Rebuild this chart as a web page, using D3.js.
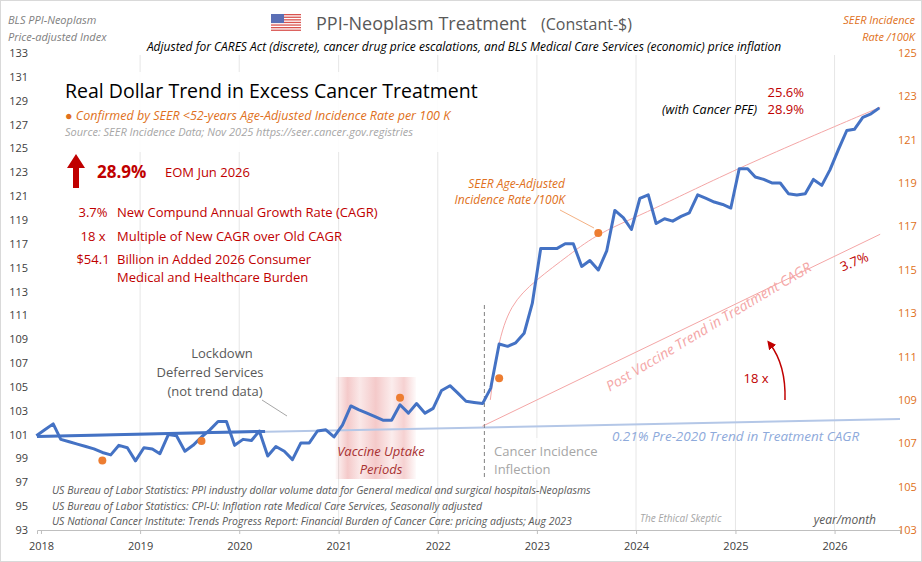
<!DOCTYPE html>
<html lang="en">
<head>
<meta charset="UTF-8">
<title>PPI-Neoplasm Treatment</title>
<script src="https://d3js.org/d3.v7.min.js"></script>
<style>
  body { margin: 0; background: #fff; font-family: Calibri, "Liberation Sans", "Open Sans", sans-serif; }
  svg text { font-family: "Open Sans", "Liberation Sans", sans-serif; }
</style>
</head>
<body>
<svg id="chart"></svg>
<script>
// ---- data ----
const startMonth = "2017-12"; // first monthly observation
const ppiIndex = [
  100.9, 101.4, 101.9, 100.6, 100.4, 100.2, 100.0, 99.8, 99.5, 99.3, 100.1, 99.9,
  98.8, 99.9, 99.8, 99.4, 101.0, 100.9, 99.6, 100.1, 100.8, 101.4, 102.1, 102.1,
  100.1, 100.6, 100.5, 101.3, 99.2, 100.0, 99.6, 98.9, 100.3, 100.3, 101.3, 101.4,
  100.8, 101.8, 103.4, 103.1, 102.8, 102.5, 102.2, 102.2, 103.5, 102.8, 103.6, 102.8,
  103.2, 104.7, 105.1, 104.5, 103.8, 103.7, 103.6, 104.9, 108.6, 108.4, 108.7, 109.5,
  112.0, 116.6, 116.6, 116.6, 117.0, 117.0, 115.1, 115.6, 114.8, 116.4, 119.8, 119.2,
  118.2, 120.8, 121.1, 118.7, 119.1, 118.9, 119.3, 119.6, 121.1, 120.8, 120.5, 120.3,
  120.0, 123.3, 123.3, 122.6, 122.4, 122.1, 122.1, 121.2, 121.1, 121.2, 122.4, 121.9,
  123.2, 124.9, 126.5, 126.6, 127.6, 127.9, 128.4
];
// SEER age-adjusted incidence (right axis)
const seerDates = ["2018-08", "2019-08", "2021-08", "2022-08", "2023-08"];
const seerRates = [106.2, 107.1, 109.1, 110.0, 116.7];
// SEER log-like fit curve (right axis)
const fitDates = [2022.53, 2022.60, 2022.73, 2022.98, 2023.33, 2023.62, 2024.14, 2025.02, 2026.46];
const fitRates = [109.0, 111.5, 113.4, 114.5, 115.7, 116.7, 117.7, 119.7, 122.5];
// trend lines (left axis)
const preTrendYears = [2017.96, 2020.26];
const preTrendVals = [100.85, 101.27];
const baseTrendYears = [2017.96, 2026.66];
const baseTrendVals = [100.85, 102.3];
const postTrendYears = [2022.45, 2026.46];
const postTrendVals = [101.7, 117.8];
const inflectionYear = 2022.47;
const leftTicks = d3.range(93, 134, 2);
const rightTicks = d3.range(103, 126, 2);
const yearTicks = d3.range(2018, 2027);

// ---- layout ----
const width = 922, height = 562;
const svg = d3.select("#chart").attr("width", width).attr("height", height);
svg.append("rect").attr("x", 0.5).attr("y", 0.5).attr("width", width - 1).attr("height", height - 1)
  .attr("fill", "#fff").attr("stroke", "#d9d9d9");

const yearToDate = y => {
  const yr = Math.floor(y);
  const s = new Date(yr, 0, 1), e = new Date(yr + 1, 0, 1);
  return new Date(+s + (y - yr) * (e - s));
};
const parseMonth = d3.timeParse("%Y-%m");
const x = d3.scaleTime().domain([yearToDate(2017.96), yearToDate(2026.66)]).range([37, 900]);
const yL = d3.scaleLinear().domain([93, 133]).range([530, 53]);
const yR = d3.scaleLinear().domain([103, 125]).range([530, 53]);

const dates = ppiIndex.map((v, i) => d3.timeDay.offset(d3.timeMonth.offset(parseMonth(startMonth), i), 14));

// gridlines
svg.append("g").selectAll("line").data(yearTicks.slice(1)).join("line")
  .attr("x1", d => x(new Date(d, 0, 1))).attr("x2", d => x(new Date(d, 0, 1)))
  .attr("y1", 55).attr("y2", 530).attr("stroke", "#e6e6e6");

// axes
const xAxis = svg.append("g").attr("transform", "translate(0,530)")
  .call(d3.axisBottom(x).tickValues(yearTicks.map(d => new Date(d, 0, 1))).tickFormat(d3.timeFormat("%Y")).tickSize(4));
xAxis.select(".domain").attr("stroke", "#bfbfbf");
xAxis.selectAll(".tick line").attr("stroke", "#bfbfbf");
xAxis.selectAll("text").attr("font-size", 11).attr("fill", "#404040").attr("dy", "1.2em");

const lAxis = svg.append("g").attr("transform", "translate(31,0)")
  .call(d3.axisLeft(yL).tickValues(leftTicks).tickSize(0));
lAxis.select(".domain").remove();
lAxis.selectAll("text").attr("font-size", 11).attr("fill", "#404040");

const rAxis = svg.append("g").attr("transform", "translate(895,0)")
  .call(d3.axisRight(yR).tickValues(rightTicks).tickSize(0));
rAxis.select(".domain").remove();
rAxis.selectAll("text").attr("font-size", 11).attr("fill", "#e07020");

// vaccine uptake shading
const defs = svg.append("defs");
const grad = defs.append("linearGradient").attr("id", "vax");
[[0, 0.05], [0.15, 0.35], [0.3, 0.15], [0.5, 0.35], [0.7, 0.12], [0.85, 0.3], [1, 0.03]].forEach(([o, a]) =>
  grad.append("stop").attr("offset", o).attr("stop-color", "#e06666").attr("stop-opacity", a));
svg.append("rect").attr("x", x(yearToDate(2020.97))).attr("y", 377)
  .attr("width", x(yearToDate(2021.78)) - x(yearToDate(2020.97))).attr("height", 102).attr("fill", "url(#vax)");

// cancer incidence inflection label box
svg.append("rect").attr("x", 486).attr("y", 438).attr("width", 130).attr("height", 42).attr("fill", "#fff").attr("opacity", 0.85);

// baseline trend
const line = d3.line();
svg.append("path").attr("d", line(baseTrendYears.map((t, i) => [x(yearToDate(t)), yL(baseTrendVals[i])])))
  .attr("stroke", "#b4c7e7").attr("stroke-width", 2).attr("fill", "none");
svg.append("path").attr("d", line(preTrendYears.map((t, i) => [x(yearToDate(t)), yL(preTrendVals[i])])))
  .attr("stroke", "#4472c4").attr("stroke-width", 3).attr("fill", "none");
svg.append("path").attr("d", line(postTrendYears.map((t, i) => [x(yearToDate(t)), yL(postTrendVals[i])])))
  .attr("stroke", "#f4a6a6").attr("stroke-width", 1).attr("fill", "none");

// inflection dashed line
svg.append("line").attr("x1", x(yearToDate(inflectionYear))).attr("x2", x(yearToDate(inflectionYear)))
  .attr("y1", 305).attr("y2", 477).attr("stroke", "#808080").attr("stroke-dasharray", "4,3");

// SEER fit curve
svg.append("path")
  .attr("d", d3.line().curve(d3.curveBasis)(fitDates.map((t, i) => [x(yearToDate(t)), yR(fitRates[i])])))
  .attr("stroke", "#f4a6a6").attr("stroke-width", 1).attr("fill", "none");

// main series
svg.append("path").datum(ppiIndex)
  .attr("d", d3.line().x((d, i) => x(dates[i])).y(d => yL(d)))
  .attr("stroke", "#4472c4").attr("stroke-width", 3).attr("fill", "none").attr("stroke-linejoin", "round");

// SEER dots
svg.append("g").selectAll("circle").data(seerRates).join("circle")
  .attr("cx", (d, i) => x(d3.timeDay.offset(parseMonth(seerDates[i]), 14))).attr("cy", d => yR(d))
  .attr("r", 4).attr("fill", "#ed7d31");

// ---- text ----
function txt(xp, yp, s, o = {}) {
  return svg.append("text").attr("x", xp).attr("y", yp).text(s)
    .attr("font-size", o.size || 12).attr("fill", o.fill || "#404040")
    .attr("font-style", o.italic ? "italic" : null).attr("font-weight", o.bold ? "bold" : null)
    .attr("text-anchor", o.anchor || "start");
}
txt(8, 24, "BLS PPI-Neoplasm", { italic: true, fill: "#808080", size: 11 });
txt(8, 41, "Price-adjusted  Index", { italic: true, fill: "#808080", size: 11 });
txt(915, 24, "SEER Incidence", { italic: true, fill: "#e07020", size: 11, anchor: "end" });
txt(915, 41, "Rate /100K", { italic: true, fill: "#e07020", size: 11, anchor: "end" });

// flag
const flag = svg.append("g").attr("transform", "translate(271,14)");
d3.range(7).forEach(i => flag.append("rect").attr("x", 0).attr("y", i * 2.6).attr("width", 30).attr("height", 1.3).attr("fill", "#d9534f"));
flag.append("rect").attr("width", 13).attr("height", 9).attr("fill", "#5b6fb5");
txt(316, 30, "PPI-Neoplasm Treatment", { size: 18, fill: "#595959" });
txt(541, 30, "(Constant-$)", { size: 16, fill: "#595959" });
txt(464, 51, "Adjusted for CARES Act (discrete),  cancer drug price escalations,  and BLS Medical  Care Services  (economic)  price  inflation",
  { italic: true, size: 12, fill: "#000", anchor: "middle" });

// info box
svg.append("rect").attr("x", 55).attr("y", 72).attr("width", 430).attr("height", 80).attr("fill", "#fff").attr("opacity", 0.9);
txt(65, 98, "Real Dollar Trend in Excess Cancer Treatment", { size: 19.5, fill: "#000" });
txt(65, 120, "● Confirmed by SEER <52-years Age-Adjusted Incidence Rate per 100  K", { italic: true, size: 12.5, fill: "#e07020" });
txt(65, 136, "Source:  SEER  Incidence  Data; Nov 2025 https://seer.cancer.gov.registries", { italic: true, size: 11, fill: "#a6a6a6" });

svg.append("path").attr("d", "M73,188 L73,168 L67,168 L76,154 L85,168 L79,168 L79,188 Z").attr("fill", "#c00000");
txt(97, 178, "28.9%", { size: 17, bold: true, fill: "#c00000" });
txt(165, 177, "EOM Jun 2026", { size: 13, fill: "#c00000" });
txt(93, 217, "3.7%", { size: 13, fill: "#c00000", anchor: "middle" });
txt(117, 217, "New Compund Annual Growth Rate (CAGR)", { size: 13, fill: "#c00000" });
txt(93, 241, "18 x", { size: 13, fill: "#c00000", anchor: "middle" });
txt(117, 241, "Multiple of New CAGR over Old CAGR", { size: 13, fill: "#c00000" });
txt(93, 264, "$54.1", { size: 13, fill: "#c00000", anchor: "middle" });
txt(117, 264, "Billion in Added 2026 Consumer", { size: 13, fill: "#c00000" });
txt(117, 282, "Medical and Healthcare Burden", { size: 13, fill: "#c00000" });

txt(804, 97, "25.6%", { size: 13, fill: "#c00000", anchor: "end" });
txt(757, 114, "(with Cancer PFE)", { size: 12.5, fill: "#000", italic: true, anchor: "end" });
txt(804, 114, "28.9%", { size: 13, fill: "#c00000", anchor: "end" });

txt(565, 188, "SEER Age-Adjusted", { size: 12, fill: "#e07020", italic: true, anchor: "end" });
txt(565, 204, "Incidence  Rate /100K", { size: 12, fill: "#e07020", italic: true, anchor: "end" });
svg.append("line").attr("x1", 560).attr("y1", 210).attr("x2", 594).attr("y2", 228).attr("stroke", "#f4b183");

// post vaccine trend labels
svg.append("text").attr("transform", "translate(711,331) rotate(-31)").attr("text-anchor", "middle")
  .attr("font-size", 14).attr("font-style", "italic").attr("fill", "#f4a6a6").text("Post Vaccine Trend in Treatment CAGR");
svg.append("text").attr("transform", "translate(856,266) rotate(-22)").attr("text-anchor", "middle")
  .attr("font-size", 13).attr("fill", "#c00000").text("3.7%");
txt(756, 383, "18  x", { size: 13, fill: "#c00000", anchor: "middle" });
svg.append("defs").append("marker").attr("id", "ah").attr("viewBox", "0 0 10 10").attr("refX", 5).attr("refY", 5)
  .attr("markerWidth", 6).attr("markerHeight", 6).attr("orient", "auto")
  .append("path").attr("d", "M0,0 L10,5 L0,10 Z").attr("fill", "#c00000");
svg.append("path").attr("d", "M785,400 Q786,365 770,344").attr("stroke", "#c00000").attr("stroke-width", 1.5)
  .attr("fill", "none").attr("marker-end", "url(#ah)");

txt(612, 441, "0.21%    Pre-2020 Trend in Treatment CAGR", { size: 13.5, fill: "#8eaadb", italic: true });

txt(222, 358, "Lockdown", { size: 13, anchor: "middle" , fill: "#595959"});
txt(210, 377, "Deferred Services", { size: 13, anchor: "middle", fill: "#595959" });
txt(215, 396, "(not trend data)", { size: 13, anchor: "middle", fill: "#595959" });
svg.append("line").attr("x1", 262).attr("y1", 400).attr("x2", 287).attr("y2", 416).attr("stroke", "#a6a6a6");

txt(381, 456, "Vaccine Uptake", { size: 13, italic: true, fill: "#a83232", anchor: "middle" });
txt(381, 474, "Periods", { size: 13, italic: true, fill: "#a83232", anchor: "middle" });
txt(494, 456, "Cancer Incidence", { size: 13, fill: "#a6a6a6" });
txt(494, 474, "Inflection", { size: 13, fill: "#a6a6a6" });

txt(52, 494, "US Bureau of Labor Statistics: PPI industry dollar volume data for General medical and surgical hospitals-Neoplasms", { size: 10.5, italic: true, fill: "#595959" });
txt(52, 510, "US Bureau of Labor Statistics: CPI-U: Inflation rate Medical Care Services, Seasonally adjusted", { size: 10.5, italic: true, fill: "#595959" });
txt(52, 525, "US National Cancer Institute: Trends Progress Report: Financial Burden of Cancer Care: pricing adjusts; Aug 2023", { size: 10.5, italic: true, fill: "#595959" });
svg.append("text").attr("x", 640).attr("y", 522).attr("font-family", "DejaVu Serif, serif").attr("font-style", "italic")
  .attr("font-size", 10).attr("fill", "#a6a6a6").text("The Ethical Skeptic");
txt(876, 524, "year/month", { size: 12, italic: true, fill: "#595959", anchor: "end" });
</script>
</body>
</html>
